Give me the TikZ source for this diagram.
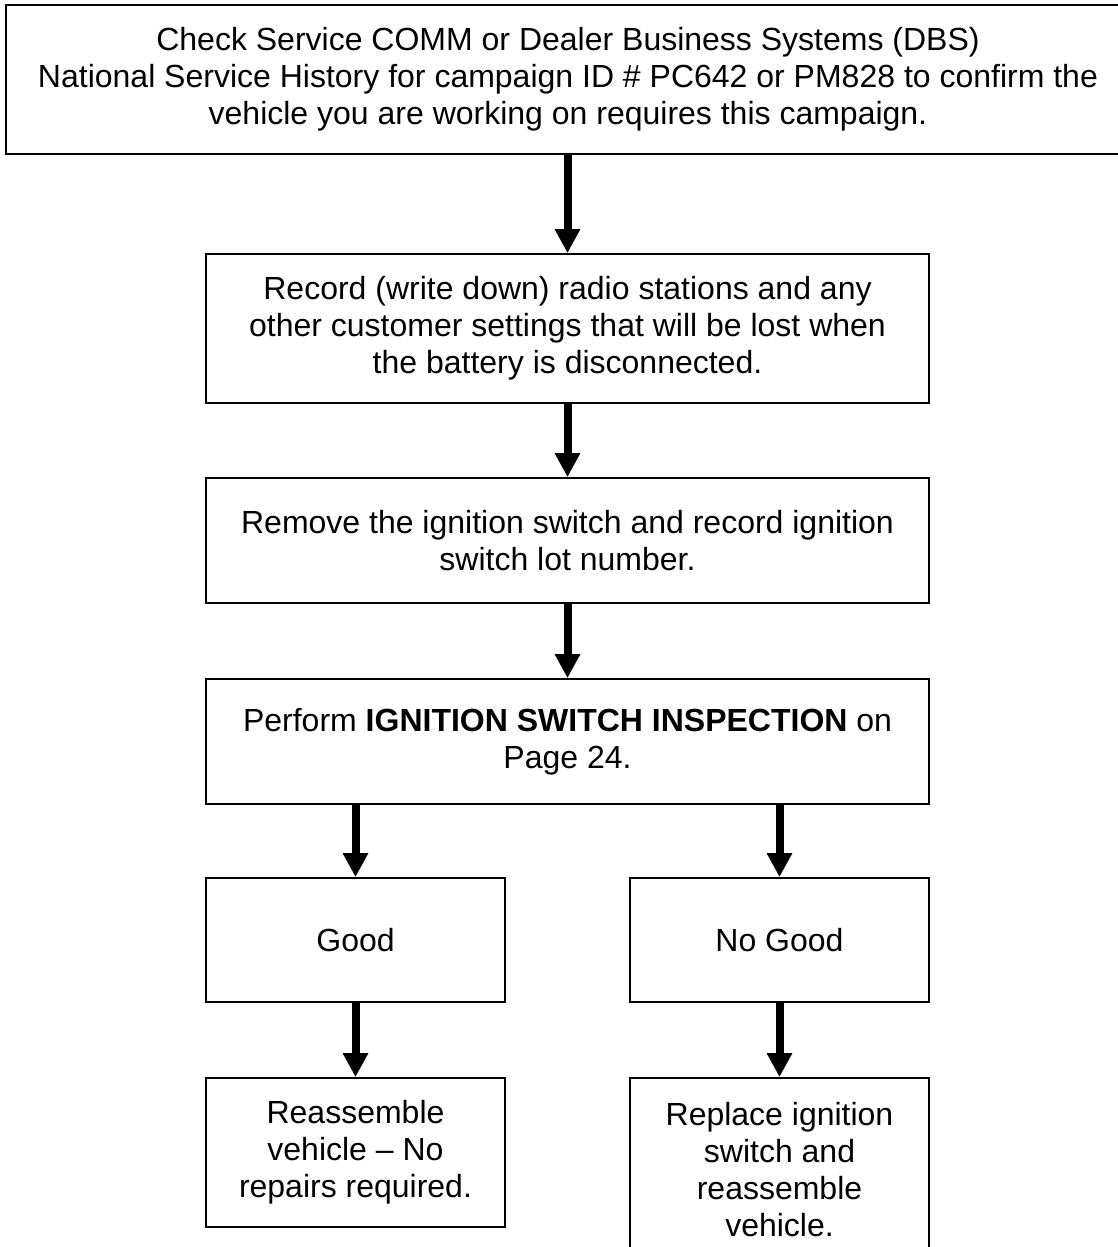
\documentclass[tikz,border=0pt]{standalone}
\usepackage{fontspec}
\setmainfont{Liberation Sans}
\usetikzlibrary{arrows.meta}

\begin{document}
\begin{tikzpicture}[x=1pt,y=-1pt,
  box/.style={draw,line width=1.8pt,inner sep=0pt,align=center,
    font=\fontsize{32}{37}\selectfont},
  arr/.style={line width=8pt,-{Triangle[width=24pt,length=24pt]}}]
\useasboundingbox (0,0) rectangle (1118,1247);
\node[box,minimum width=1124pt,minimum height=149pt] (check) at (568,79.5)
  {Check Service COMM or Dealer Business Systems (DBS)\\
   National Service History for campaign ID \# PC642 or PM828 to confirm the\\
   vehicle you are working on requires this campaign.};
\node[box,minimum width=723pt,minimum height=149pt] (record) at (567.5,328.5)
  {Record (write down) radio stations and any\\
   other customer settings that will be lost when\\
   the battery is disconnected.};
\node[box,minimum width=723pt,minimum height=125pt] (remove) at (567.5,540.5)
  {Remove the ignition switch and record ignition\\ switch lot number.};
\node[box,minimum width=723pt,minimum height=125pt] (perform) at (567.5,741.5)
  {Perform \textbf{IGNITION SWITCH INSPECTION} on\\ Page 24.};
\node[box,minimum width=299pt,minimum height=124pt] (good) at (355.5,940) {Good};
\node[box,minimum width=299pt,minimum height=124pt] (nogood) at (779.5,940) {No Good};
\node[box,minimum width=299pt,minimum height=149pt] (reasm) at (355.5,1152.5)
  {Reassemble\\ vehicle -- No\\ repairs required.};
\node[box,minimum width=299pt,minimum height=184pt] (replace) at (779.5,1170)
  {Replace ignition\\ switch and\\ reassemble\\ vehicle.};
% arrows
\draw[arr] (check.south -| record) -- (record.north);
\draw[arr] (record) -- (remove);
\draw[arr] (remove) -- (perform);
\draw[arr] (perform.south -| good) -- (good.north);
\draw[arr] (perform.south -| nogood) -- (nogood.north);
\draw[arr] (good) -- (reasm);
\draw[arr] (nogood) -- (replace);
\end{tikzpicture}
\end{document}
